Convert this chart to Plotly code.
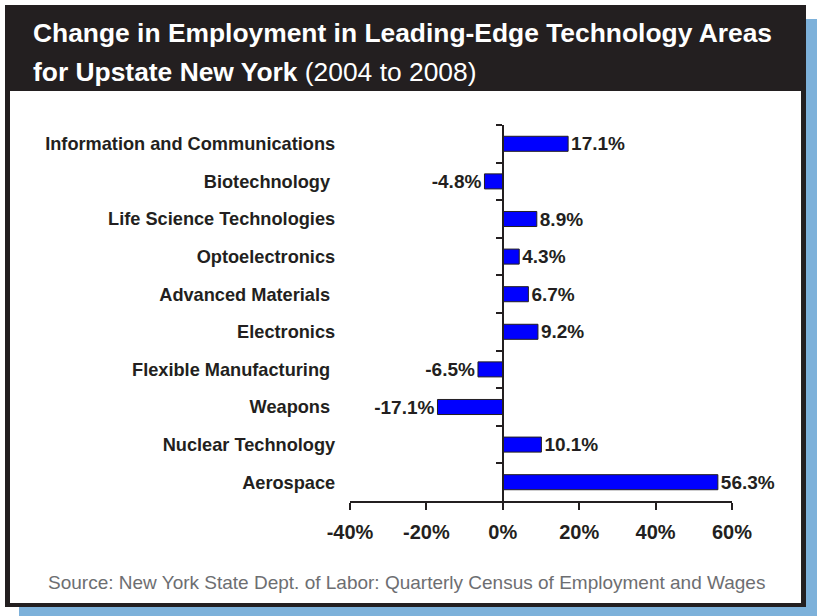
import plotly.graph_objects as go

# Leading-edge technology areas, top to bottom
categories = [
    "Information and Communications",
    "Biotechnology\u00a0",
    "Life Science Technologies",
    "Optoelectronics",
    "Advanced Materials\u00a0",
    "Electronics",
    "Flexible Manufacturing\u00a0",
    "Weapons\u00a0",
    "Nuclear Technology",
    "Aerospace",
]
# Percent change in employment, 2004 to 2008
values = [17.1, -4.8, 8.9, 4.3, 6.7, 9.2, -6.5, -17.1, 10.1, 56.3]

x_ticks = [-40, -20, 0, 20, 40, 60]
x_tick_labels = ["-40%", "-20%", "0%", "20%", "40%", "60%"]

title_line1 = "Change in Employment in Leading-Edge Technology Areas"
title_line2_bold = "for Upstate New York"
title_line2_rest = " (2004 to 2008)"
source_text = "Source: New York State Dept. of Labor: Quarterly Census of Employment and Wages"

W, H = 817, 616
ML, MR, MT, MB = 350, 85, 125, 115
PW, PH = W - ML - MR, H - MT - MB

FONT = "Liberation Sans, Arial, Helvetica, sans-serif"
DARK = "#231F20"


def px(x):
    return (x - ML) / PW


def py(y):
    return (H - MB - y) / PH


labels = [f"{v:.1f}%" for v in values]

fig = go.Figure(
    go.Bar(
        x=values,
        y=categories,
        orientation="h",
        marker=dict(color="#0000FF", line=dict(color=DARK, width=1)),
        text=labels,
        textposition="outside",
        constraintext="none",
        cliponaxis=False,
        textfont=dict(family=FONT, size=19, color=DARK, weight="bold"),
        hoverinfo="skip",
    )
)

shapes = [
    # drop shadow
    dict(type="rect", xref="paper", yref="paper", layer="below",
         x0=px(19), x1=px(817), y0=py(19), y1=py(616),
         fillcolor="#7DB1DA", line=dict(width=0)),
    # dark frame / header
    dict(type="rect", xref="paper", yref="paper", layer="below",
         x0=px(5), x1=px(806), y0=py(5), y1=py(607),
         fillcolor=DARK, line=dict(width=0)),
    # white chart panel
    dict(type="rect", xref="paper", yref="paper", layer="below",
         x0=px(10), x1=px(801), y0=py(91), y1=py(603),
         fillcolor="white", line=dict(width=0)),
]

annotations = [
    dict(xref="paper", yref="paper", x=px(31), y=py(33), xanchor="left", yanchor="middle",
         text=f"<b>{title_line1}</b>", showarrow=False,
         font=dict(family=FONT, size=26.4, color="white")),
    dict(xref="paper", yref="paper", x=px(31), y=py(72), xanchor="left", yanchor="middle",
         text=f"<b>{title_line2_bold}</b>{title_line2_rest}", showarrow=False,
         font=dict(family=FONT, size=26.4, color="white")),
    dict(xref="paper", yref="paper", x=px(406), y=py(582), xanchor="center", yanchor="middle",
         text=source_text, showarrow=False,
         font=dict(family=FONT, size=19, color="#6D6E71")),
]

fig.update_layout(
    width=W, height=H,
    margin=dict(l=ML, r=MR, t=MT, b=MB, pad=0),
    paper_bgcolor="white",
    plot_bgcolor="rgba(0,0,0,0)",
    bargap=0.6,
    showlegend=False,
    shapes=shapes,
    annotations=annotations,
    xaxis=dict(
        range=[-40, 60],
        tickvals=x_ticks,
        ticktext=x_tick_labels,
        showgrid=False,
        zeroline=False,
        showline=True,
        linecolor=DARK,
        linewidth=2,
        ticks="outside",
        ticklen=7,
        tickwidth=2,
        tickcolor=DARK,
        ticklabelstandoff=5,
        tickfont=dict(family=FONT, size=20, color=DARK, weight="bold"),
        fixedrange=True,
    ),
    yaxis=dict(
        autorange="reversed",
        type="category",
        anchor="free",
        position=(0 - (-40)) / 100,
        showgrid=False,
        zeroline=False,
        showline=True,
        linecolor=DARK,
        linewidth=2,
        ticks="outside",
        tickson="boundaries",
        ticklen=6,
        tickwidth=2,
        tickcolor=DARK,
        ticklabelstandoff=163,
        tickfont=dict(family=FONT, size=18.2, color=DARK, weight="bold"),
        fixedrange=True,
    ),
)

fig.write_html("out.html", config={"displayModeBar": False})
